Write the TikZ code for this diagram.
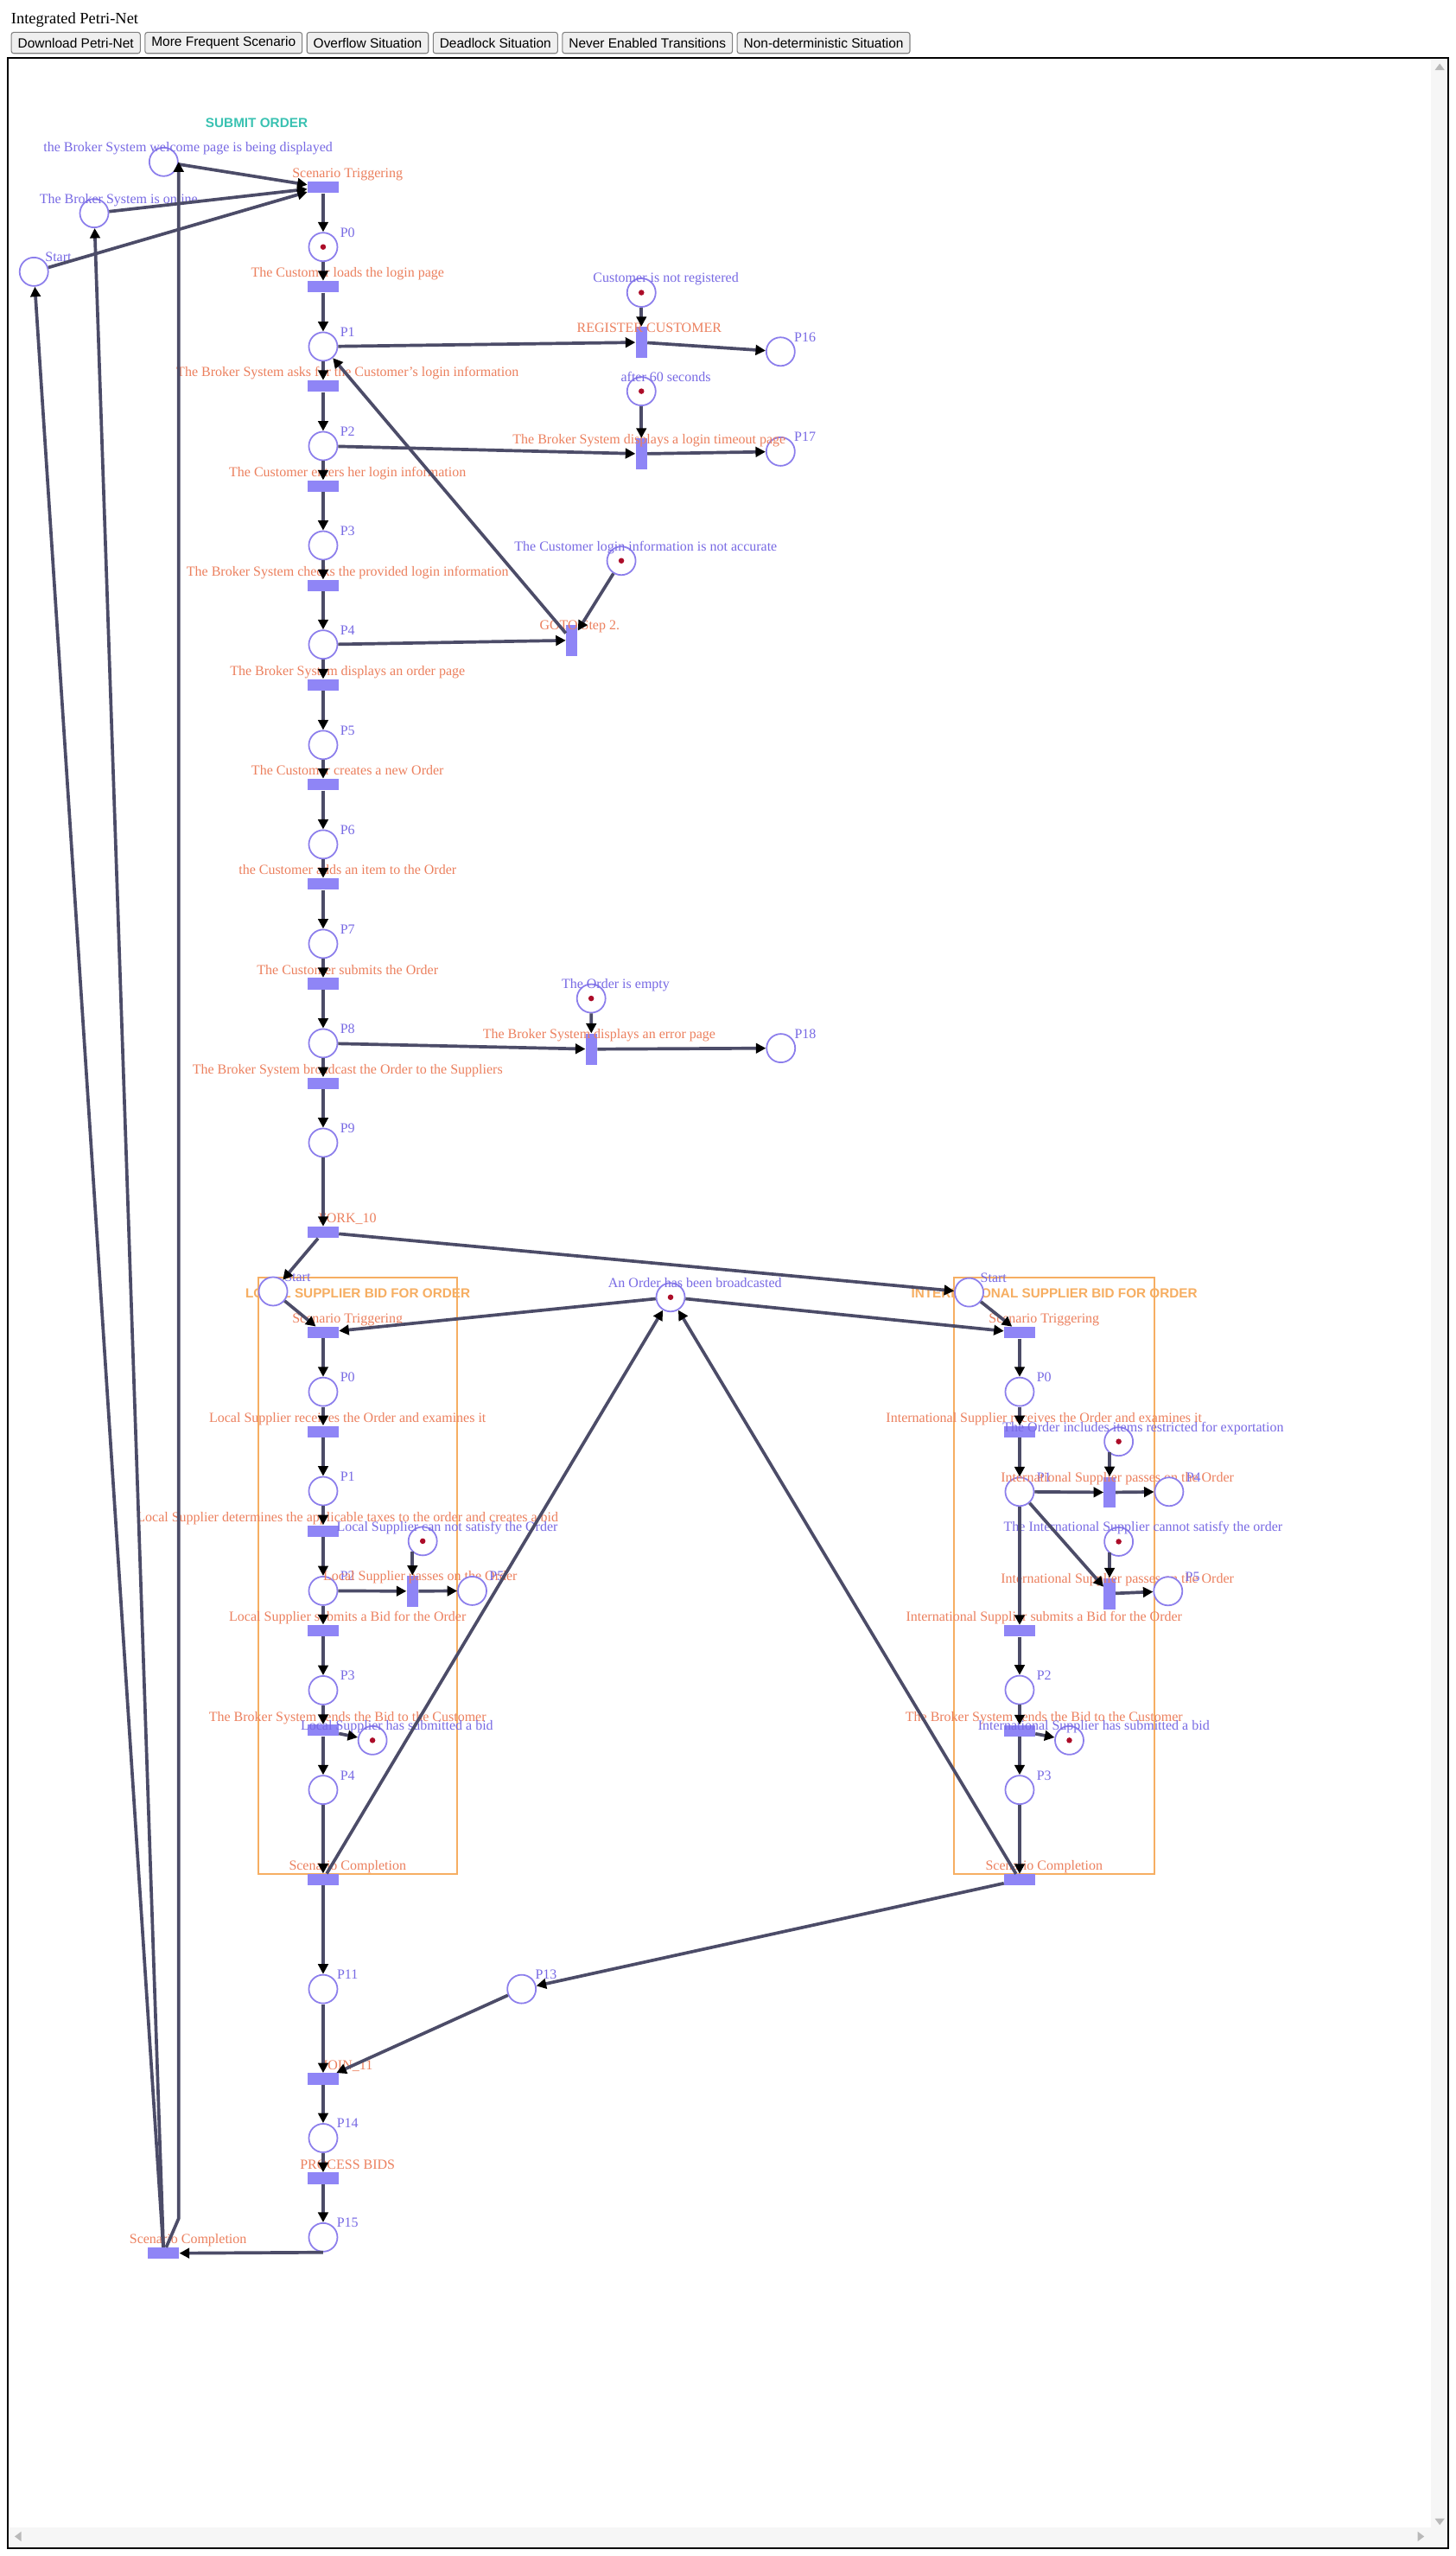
\documentclass[tikz,border=0pt]{standalone}
\usepackage{fontspec}
\setmainfont{Liberation Serif}
\newfontfamily\arialfont{Liberation Sans}
\usetikzlibrary{positioning, arrows.meta}
\definecolor{PNArc}{RGB}{76,76,104}
\definecolor{PNPlace}{RGB}{140,126,236}
\definecolor{PNTrans}{RGB}{143,133,246}
\definecolor{PNPText}{RGB}{120,106,228}
\definecolor{PNTText}{RGB}{236,128,94}
\definecolor{PNToken}{RGB}{172,12,40}
\definecolor{PNBox}{RGB}{246,174,98}
\definecolor{PNTeal}{RGB}{58,194,178}
\definecolor{BtnFill}{RGB}{239,239,239}
\definecolor{BtnLine}{RGB}{128,128,128}

\begin{document}
\begin{tikzpicture}[x=0.03771cm, y=-0.03771cm,
    place/.style={circle, draw=PNPlace, line width=1pt, fill=white,
                  minimum size=0.66cm, inner sep=0pt},
    token/.style={path picture={\fill[PNToken]
                  (path picture bounding box.center) circle (0.065cm);}},
    trans/.style={rectangle, fill=PNTrans, inner sep=0pt,
                  minimum width=0.716cm, minimum height=0.264cm},
    vtrans/.style={trans, minimum width=0.264cm, minimum height=0.716cm},
    ptext/.style={text=PNPText, font=\fontsize{9.1}{10}\selectfont,
                  inner sep=0pt, text height=6.2pt, text depth=1.8pt},
    ttext/.style={ptext, text=PNTText},
    plab/.style={label={[ptext, shift={(15,-8.2)}]center:#1}},
    tlab/.style={label={[ttext, shift={(15,-7.8)}]center:#1}},
    vlab/.style={label={[ttext, shift={(4.8,-8.4)}]center:#1}},
    arc/.style={draw=PNArc, line width=2.1pt,
                -{Triangle[length=0.23cm, width=0.23cm, black]}},
    subnet/.style={draw=PNBox, line width=1.1pt},
    nettitle/.style={font=\arialfont\bfseries\fontsize{8.7}{10}\selectfont,
                     inner sep=0pt, text height=6.3pt, text depth=0pt},
    btn/.style={draw=BtnLine, fill=BtnFill, rounded corners=1.5pt,
                line width=0.6pt, font=\arialfont\fontsize{8.8}{10}\selectfont,
                minimum height=0.486cm, inner xsep=0.15cm, inner ysep=0pt}
  ]
  % page, frame and scroll bars
  \useasboundingbox (0,0) rectangle (893,1568);
  \fill[white] (0,0) rectangle (893,1568);
  \fill[gray!7] (878,36.5) rectangle (888,1562);
  \fill[gray!7] (6,1550.5) rectangle (888,1562);
  \draw[line width=1.2pt] (5,35.5) rectangle (888.5,1563);
  \fill[gray!55] (880.5,43) -- (886.5,43) -- (883.5,39) -- cycle;
  \fill[gray!55] (880.5,1545) -- (886.5,1545) -- (883.5,1549) -- cycle;
  \fill[gray!55] (13,1553) -- (13,1559) -- (9,1556) -- cycle;
  \fill[gray!55] (870,1553) -- (870,1559) -- (874,1556) -- cycle;

  % header and buttons
  \node[font=\fontsize{10.5}{12}\selectfont, anchor=west, inner sep=0pt]
        (hdr) at (6.7,12.4) {Integrated Petri-Net};
  \node[btn, anchor=west] (bdl) at (6.7,26.3) {Download Petri-Net};
  \node[btn, right=0.09cm of bdl] (bfreq) {More Frequent Scenario};
  \node[btn, right=0.09cm of bfreq] (bover) {Overflow Situation};
  \node[btn, right=0.09cm of bover] (bdead) {Deadlock Situation};
  \node[btn, right=0.09cm of bdead] (bnever) {Never Enabled Transitions};
  \node[btn, right=0.09cm of bnever] (bnondet) {Non-deterministic Situation};

  % sub-net boxes
  \node[nettitle, text=PNTeal] (sotitle) at (157.5,75.5) {SUBMIT ORDER};
  \draw[subnet] (158.5,783.6) rectangle (280.7,1149.6);
  \node[nettitle, text=PNBox] (lstitle) at (219.6,793) {LOCAL SUPPLIER BID FOR ORDER};
  \draw[subnet] (585.6,783.6) rectangle (708.3,1149.8);
  \node[nettitle, text=PNBox] (istitle) at (647,793) {INTERNATIONAL SUPPLIER BID FOR ORDER};

  % submit order: main column
  \node[place, plab={the Broker System welcome page is being displayed}] (welcome) at (100.4,99.3) {};
  \node[place, plab={The Broker System is online}] (online) at (57.8,130.8) {};
  \node[place, plab=Start] (start) at (20.8,166.7) {};
  \node[trans, tlab={Scenario Triggering}] (st) at (198.3,114.9) {};
  \node[place, token, plab=P0] (p0) at (198.3,151.5) {};
  \node[trans, tlab={The Customer loads the login page}] (t0) at (198.3,175.9) {};
  \node[place, plab=P1] (p1) at (198.3,212.6) {};
  \node[trans, tlab={The Broker System asks for the Customer's login information}] (t1) at (198.3,236.9) {};
  \node[place, plab=P2] (p2) at (198.3,273.6) {};
  \node[trans, tlab={The Customer enters her login information}] (t2) at (198.3,298.2) {};
  \node[place, plab=P3] (p3) at (198.3,334.6) {};
  \node[trans, tlab={The Broker System checks the provided login information}] (t3) at (198.3,359.2) {};
  \node[place, plab=P4] (p4) at (198.3,395.4) {};
  \node[trans, tlab={The Broker System displays an order page}] (t4) at (198.3,420.2) {};
  \node[place, plab=P5] (p5) at (198.3,457) {};
  \node[trans, tlab={The Customer creates a new Order}] (t5) at (198.3,481.3) {};
  \node[place, plab=P6] (p6) at (198.3,518) {};
  \node[trans, tlab={the Customer adds an item to the Order}] (t6) at (198.3,542.3) {};
  \node[place, plab=P7] (p7) at (198.3,579) {};
  \node[trans, tlab={The Customer submits the Order}] (t7) at (198.3,603.4) {};
  \node[place, plab=P8] (p8) at (198.3,640) {};
  \node[trans, tlab={The Broker System broadcast the Order to the Suppliers}] (t8) at (198.3,664.5) {};
  \node[place, plab=P9] (p9) at (198.3,701) {};
  \node[trans, tlab=FORK\_10] (fork) at (198.3,756) {};

  % submit order: side branches
  \node[place, token, plab={Customer is not registered}] (unreg) at (393.6,179.5) {};
  \node[vtrans, vlab={REGISTER CUSTOMER}] (reg) at (393.6,210) {};
  \node[place, plab=P16] (p16) at (479,215.7) {};
  \node[place, token, plab={after 60 seconds}] (wait) at (393.6,240) {};
  \node[place, plab=P17] (p17) at (479,277) {};
  \node[vtrans, vlab={The Broker System displays a login timeout page}] (tout) at (393.6,278.4) {};
  \node[place, token, plab={The Customer login information is not accurate}] (wrong) at (381.3,344) {};
  \node[vtrans, vlab={GOTO Step 2.}] (goto) at (350.9,392.8) {};
  \node[place, token, plab={The Order is empty}] (empty) at (362.8,612.5) {};
  \node[vtrans, vlab={The Broker System displays an error page}] (err) at (362.9,643.6) {};
  \node[place, plab=P18] (p18) at (479.2,643) {};

  % local supplier bid
  \node[place, plab=Start] (lstart) at (167.6,792.2) {};
  \node[trans, tlab={Scenario Triggering}] (lst) at (198.3,817.4) {};
  \node[place, plab=P0] (lp0) at (198.3,853.8) {};
  \node[trans, tlab={Local Supplier receives the Order and examines it}] (lt0) at (198.3,878.2) {};
  \node[place, plab=P1] (lp1) at (198.3,914.7) {};
  \node[trans, tlab={Local Supplier determines the applicable taxes to the order and creates a bid}] (lt1) at (198.3,939.2) {};
  \node[place, token, plab={Local Supplier can not satisfy the Order}] (lcant) at (259.4,945.4) {};
  \node[place, plab=P2] (lp2) at (198.3,975.9) {};
  \node[vtrans, vlab={Local Supplier passes on the Order}] (lpass) at (253.1,976.1) {};
  \node[place, plab=P5] (lp5) at (289.8,975.9) {};
  \node[trans, tlab={Local Supplier submits a Bid for the Order}] (lt2) at (198.3,1000.3) {};
  \node[place, plab=P3] (lp3) at (198.3,1036.9) {};
  \node[trans, tlab={The Broker System sends the Bid to the Customer}] (lt3) at (198.3,1061.5) {};
  \node[place, token, plab={Local Supplier has submitted a bid}] (lbid) at (228.6,1067.6) {};
  \node[place, plab=P4] (lp4) at (198.3,1098) {};
  \node[trans, tlab={Scenario Completion}] (lsc) at (198.3,1153) {};

  % international supplier bid
  \node[place, plab=Start] (istart) at (594.7,792.8) {};
  \node[trans, tlab={Scenario Triggering}] (ist) at (625.7,817.5) {};
  \node[place, plab=P0] (ip0) at (625.7,853.8) {};
  \node[trans, tlab={International Supplier receives the Order and examines it}] (it0) at (625.7,878.2) {};
  \node[place, token, plab={The Order includes items restricted for exportation}] (irestr) at (686.5,884.3) {};
  \node[place, plab=P1] (ip1) at (625.7,915.1) {};
  \node[vtrans, vlab={International Supplier passes on the Order}] (ipass1) at (680.9,915.5) {};
  \node[place, plab=P4] (ip4) at (717.4,915.1) {};
  \node[place, token, plab={The International Supplier cannot satisfy the order}] (icant) at (686.5,945.7) {};
  \node[vtrans, vlab={International Supplier passes on the Order}] (ipass2) at (680.9,977.6) {};
  \node[place, plab=P5] (ip5) at (716.8,976.1) {};
  \node[trans, tlab={International Supplier submits a Bid for the Order}] (it1) at (625.7,1000.5) {};
  \node[place, plab=P2] (ip2) at (625.7,1036.7) {};
  \node[trans, tlab={The Broker System sends the Bid to the Customer}] (it2) at (625.7,1061.7) {};
  \node[place, token, plab={International Supplier has submitted a bid}] (ibid) at (656.2,1067.6) {};
  \node[place, plab=P3] (ip3) at (625.7,1098) {};
  \node[trans, tlab={Scenario Completion}] (isc) at (625.7,1153.2) {};

  % shared place and join
  \node[place, token, plab={An Order has been broadcasted}] (bcast) at (411.5,795.8) {};
  \node[place, plab=P11] (p11) at (198.3,1220.2) {};
  \node[place, plab=P13] (p13) at (320.1,1220.2) {};
  \node[trans, tlab=JOIN\_11] (join) at (198.3,1275.3) {};
  \node[place, plab=P14] (p14) at (198.3,1311.6) {};
  \node[trans, tlab={PROCESS BIDS}] (bids) at (198.3,1336.3) {};
  \node[place, plab=P15] (p15) at (198.3,1372.5) {};
  \node[trans, tlab={Scenario Completion}] (fsc) at (100.4,1382.3) {};
  \coordinate (wbend) at (109.6,1361);

  % arcs: submit order
  \draw[arc] (welcome) -- (st);
  \draw[arc] (online) -- (st);
  \draw[arc] (start) -- (st);
  \draw[arc] (st) -- (p0);
  \draw[arc] (p0) -- (t0);
  \draw[arc] (t0) -- (p1);
  \draw[arc] (p1) -- (t1);
  \draw[arc] (t1) -- (p2);
  \draw[arc] (p2) -- (t2);
  \draw[arc] (t2) -- (p3);
  \draw[arc] (p3) -- (t3);
  \draw[arc] (t3) -- (p4);
  \draw[arc] (p4) -- (t4);
  \draw[arc] (t4) -- (p5);
  \draw[arc] (p5) -- (t5);
  \draw[arc] (t5) -- (p6);
  \draw[arc] (p6) -- (t6);
  \draw[arc] (t6) -- (p7);
  \draw[arc] (p7) -- (t7);
  \draw[arc] (t7) -- (p8);
  \draw[arc] (p8) -- (t8);
  \draw[arc] (t8) -- (p9);
  \draw[arc] (p9) -- (fork);
  \draw[arc] (p1) -- (reg);
  \draw[arc] (unreg) -- (reg);
  \draw[arc] (reg) -- (p16);
  \draw[arc] (p2) -- (tout);
  \draw[arc] (wait) -- (tout);
  \draw[arc] (tout) -- (p17);
  \draw[arc] (p4) -- (goto);
  \draw[arc] (wrong) -- (goto);
  \draw[arc] (goto) -- (p1);
  \draw[arc] (p8) -- (err);
  \draw[arc] (empty) -- (err);
  \draw[arc] (err) -- (p18);
  \draw[arc] (fork) -- (lstart);
  \draw[arc] (fork) -- (istart);

  % arcs: local supplier
  \draw[arc] (bcast) -- (lst);
  \draw[arc] (lstart) -- (lst);
  \draw[arc] (lst) -- (lp0);
  \draw[arc] (lp0) -- (lt0);
  \draw[arc] (lt0) -- (lp1);
  \draw[arc] (lp1) -- (lt1);
  \draw[arc] (lt1) -- (lp2);
  \draw[arc] (lp2) -- (lpass);
  \draw[arc] (lcant.south west -| lpass) -- (lpass);
  \draw[arc] (lpass) -- (lp5);
  \draw[arc] (lp2) -- (lt2);
  \draw[arc] (lt2) -- (lp3);
  \draw[arc] (lp3) -- (lt3);
  \draw[arc] (lt3) -- (lbid);
  \draw[arc] (lt3) -- (lp4);
  \draw[arc] (lp4) -- (lsc);
  \draw[arc] (lsc) -- (bcast);
  \draw[arc] (lsc) -- (p11);

  % arcs: international supplier
  \draw[arc] (bcast) -- (ist);
  \draw[arc] (istart) -- (ist);
  \draw[arc] (ist) -- (ip0);
  \draw[arc] (ip0) -- (it0);
  \draw[arc] (it0) -- (ip1);
  \draw[arc] (ip1) -- (ipass1);
  \draw[arc] (irestr.south west -| ipass1) -- (ipass1);
  \draw[arc] (ipass1) -- (ip4);
  \draw[arc] (ip1) -- (ipass2);
  \draw[arc] (icant.south west -| ipass2) -- (ipass2);
  \draw[arc] (ipass2) -- (ip5);
  \draw[arc] (ip1) -- (it1);
  \draw[arc] (it1) -- (ip2);
  \draw[arc] (ip2) -- (it2);
  \draw[arc] (it2) -- (ibid);
  \draw[arc] (it2) -- (ip3);
  \draw[arc] (ip3) -- (isc);
  \draw[arc] (isc) -- (bcast);
  \draw[arc] (isc) -- (p13);

  % arcs: join and loop back
  \draw[arc] (p11) -- (join);
  \draw[arc] (p13) -- (join);
  \draw[arc] (join) -- (p14);
  \draw[arc] (p14) -- (bids);
  \draw[arc] (bids) -- (p15);
  \draw[arc] (p15.south) -- (fsc);
  \draw[arc] (fsc) -- (start);
  \draw[arc] (fsc) -- (online);
  \draw[arc] (fsc) -- (wbend) -- (welcome.east);
\end{tikzpicture}
\end{document}
